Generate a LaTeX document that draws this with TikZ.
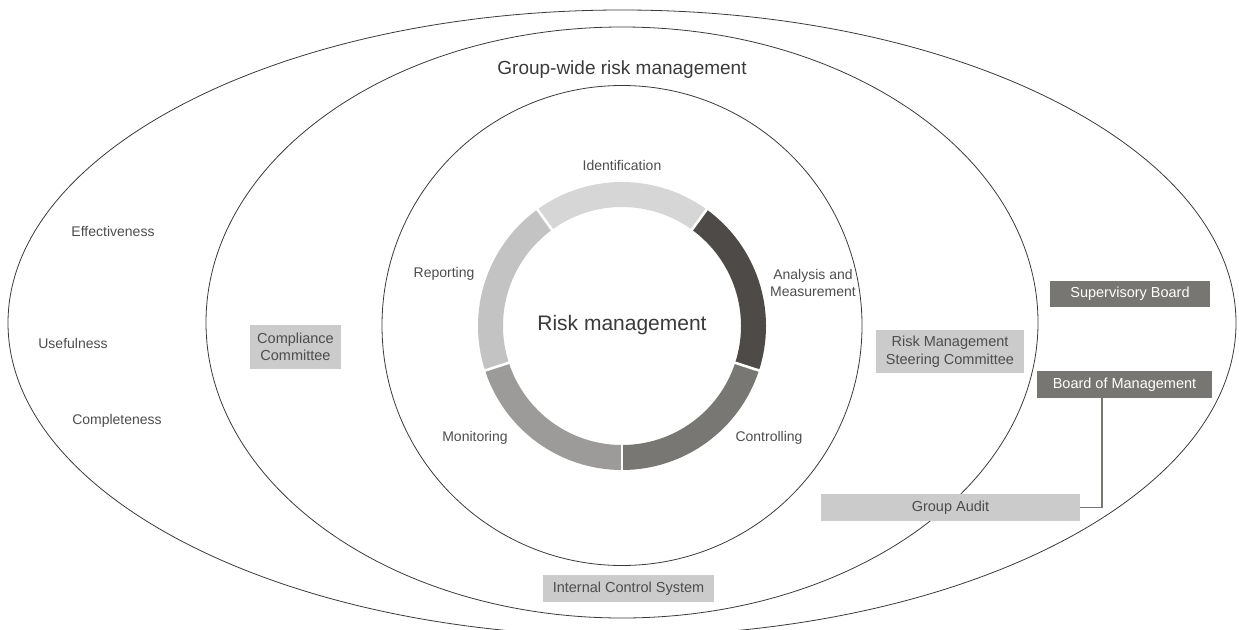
\documentclass[tikz,border=0pt]{standalone}
\usepackage{fontspec}
\setmainfont{Liberation Sans}
\usetikzlibrary{calc}
\definecolor{linec}{HTML}{3A3A3A}
\definecolor{txt}{HTML}{4D4D4D}
\definecolor{boxlight}{HTML}{CBCBCB}
\definecolor{boxdark}{HTML}{787672}
\definecolor{segA}{HTML}{D5D6D5}
\definecolor{segB}{HTML}{4E4A47}
\definecolor{segC}{HTML}{787773}
\definecolor{segD}{HTML}{9C9B99}
\definecolor{segE}{HTML}{C3C3C3}
\tikzset{
  lbl/.style={text=txt, font=\fontsize{14}{17}\selectfont, inner sep=0pt, align=center},
  lightbox/.style={fill=boxlight, text=txt, font=\fontsize{14.5}{17.5}\selectfont, inner sep=0pt, align=center},
  darkbox/.style={fill=boxdark, text=white, font=\fontsize{14.5}{17.5}\selectfont, inner sep=0pt, align=center},
  ring/.style={draw=linec, line width=0.8pt},
  sep/.style={white, line width=2.6pt},
}
\newcommand{\ringseg}[3]{%
  \fill[#3] ($(rc)+(#1:144pt)$) arc[start angle=#1, end angle=#2, radius=144pt]
    -- ($(rc)+(#2:119pt)$) arc[start angle=#2, end angle=#1, radius=119pt] -- cycle;}
\begin{document}
\begin{tikzpicture}[x=1pt,y=-1pt]
\useasboundingbox (0,0) rectangle (1239,629);
\clip (0,0) rectangle (1239,629);
% ellipses
\draw[ring] (622,323) ellipse [x radius=614pt, y radius=313pt];
\draw[ring] (622,322.5) ellipse [x radius=416pt, y radius=295.5pt];
\draw[ring] (622,325.5) circle [radius=240pt];
% ring
\coordinate (rc) at (622,326);
\ringseg{54}{126}{segA}
\ringseg{126}{198}{segE}
\ringseg{198}{270}{segD}
\ringseg{270}{342}{segC}
\ringseg{-18}{54}{segB}
\foreach \a in {54,126,198,270,342}
  \draw[sep] ($(rc)+(\a:115pt)$) -- ($(rc)+(\a:148pt)$);
% titles
\node[text=linec, font=\fontsize{19}{22}\selectfont, inner sep=0pt] (gw) at (622,70) {Group-wide risk management};
\node[text=linec, font=\fontsize{21}{24}\selectfont, inner sep=0pt] (rm) at (622,325) {Risk management};
% cycle labels
\node[lbl] (ident) at (622,165) {Identification};
\node[lbl] (anal) at (813,283) {Analysis and\\Measurement};
\node[lbl] (ctrl) at (769,438) {Controlling};
\node[lbl] (mon) at (475,438) {Monitoring};
\node[lbl] (rep) at (444,274) {Reporting};
% outer labels
\node[lbl] (eff) at (113,231) {Effectiveness};
\node[lbl] (use) at (73,343) {Usefulness};
\node[lbl] (comp) at (117,421) {Completeness};
% boxes
\node[lightbox, minimum width=91pt, minimum height=44pt] (cc) at (295.5,347) {Compliance\\Committee};
\node[lightbox, minimum width=148pt, minimum height=43pt] (rmsc) at (950,351.5) {Risk Management\\Steering Committee};
\node[darkbox, minimum width=160pt, minimum height=26pt] (sb) at (1130,294) {Supervisory Board};
\node[darkbox, minimum width=175pt, minimum height=27pt] (bom) at (1124.5,384.5) {Board of Management};
\node[lightbox, minimum width=259pt, minimum height=27pt] (ga) at (950.5,507.5) {Group Audit};
\node[lightbox, minimum width=171pt, minimum height=27pt] (ics) at (628.5,588.5) {Internal Control System};
% connector
\coordinate (elbow) at (1102,507.5);
\draw[draw=boxdark, line width=1.4pt] (bom.south -| elbow) -- (elbow) -- (ga.east |- elbow);
\end{tikzpicture}
\end{document}
